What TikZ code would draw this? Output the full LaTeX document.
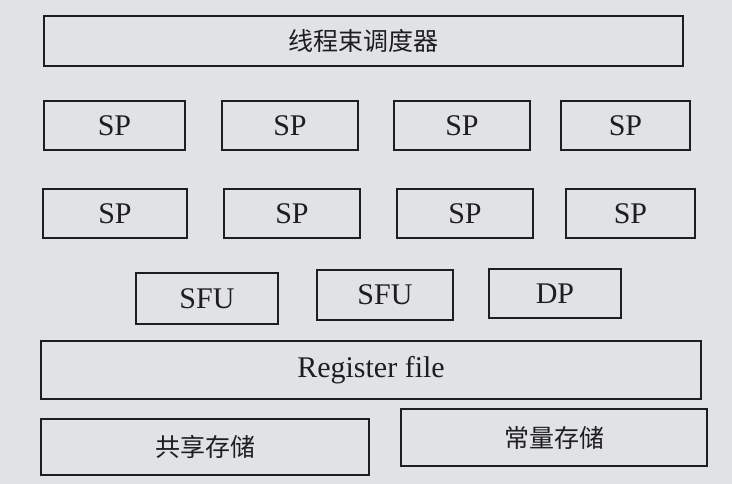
\documentclass[tikz,border=0pt]{standalone}
\usepackage{fontspec}
\setmainfont{Liberation Serif}
\newfontfamily\cjk{Noto Sans CJK SC}
\definecolor{paper}{RGB}{224,226,227}
\definecolor{ink}{RGB}{30,30,33}
\begin{document}
\begin{tikzpicture}[x=1pt,y=-1pt,
  unit/.style={draw=ink,line width=1.4pt,rectangle,inner sep=0pt,text=ink,font=\fontsize{30}{33}\selectfont},
  cjkunit/.style={unit,font=\cjk\fontsize{25}{29}\selectfont}]
\fill[paper] (0,0) rectangle (732,484);
\useasboundingbox (0,0) rectangle (732,484);
\node[cjkunit,minimum width=639pt,minimum height=50pt] (sched) at (363.5,41) {线程束调度器};
% row 1
\node[unit,minimum width=141pt,minimum height=49pt] (sp11) at (114.5,125.5) {SP};
\node[unit,minimum width=136pt,minimum height=49pt] (sp12) at (290,125.5) {SP};
\node[unit,minimum width=136pt,minimum height=49pt] (sp13) at (462,125.5) {SP};
\node[unit,minimum width=129pt,minimum height=49pt] (sp14) at (625.5,125.5) {SP};
% row 2
\node[unit,minimum width=144pt,minimum height=49pt] (sp21) at (115,213.5) {SP};
\node[unit,minimum width=136pt,minimum height=49pt] (sp22) at (292,213.5) {SP};
\node[unit,minimum width=136pt,minimum height=49pt] (sp23) at (465,213.5) {SP};
\node[unit,minimum width=129pt,minimum height=49pt] (sp24) at (630.5,213.5) {SP};
% row 3
\node[unit,minimum width=142pt,minimum height=51pt] (sfu1) at (207,298.5) {SFU};
\node[unit,minimum width=136pt,minimum height=50pt] (sfu2) at (385,295) {SFU};
\node[unit,minimum width=132pt,minimum height=49pt] (dp) at (555,293.5) {DP};
% register file
\node[unit,minimum width=660pt,minimum height=58pt] (reg) at (371,370) {Register file};
% memories
\node[cjkunit,minimum width=328pt,minimum height=56pt] (shared) at (205,447) {共享存储};
\node[cjkunit,minimum width=306pt,minimum height=57pt] (const) at (554,437.5) {常量存储};
\end{tikzpicture}
\end{document}
